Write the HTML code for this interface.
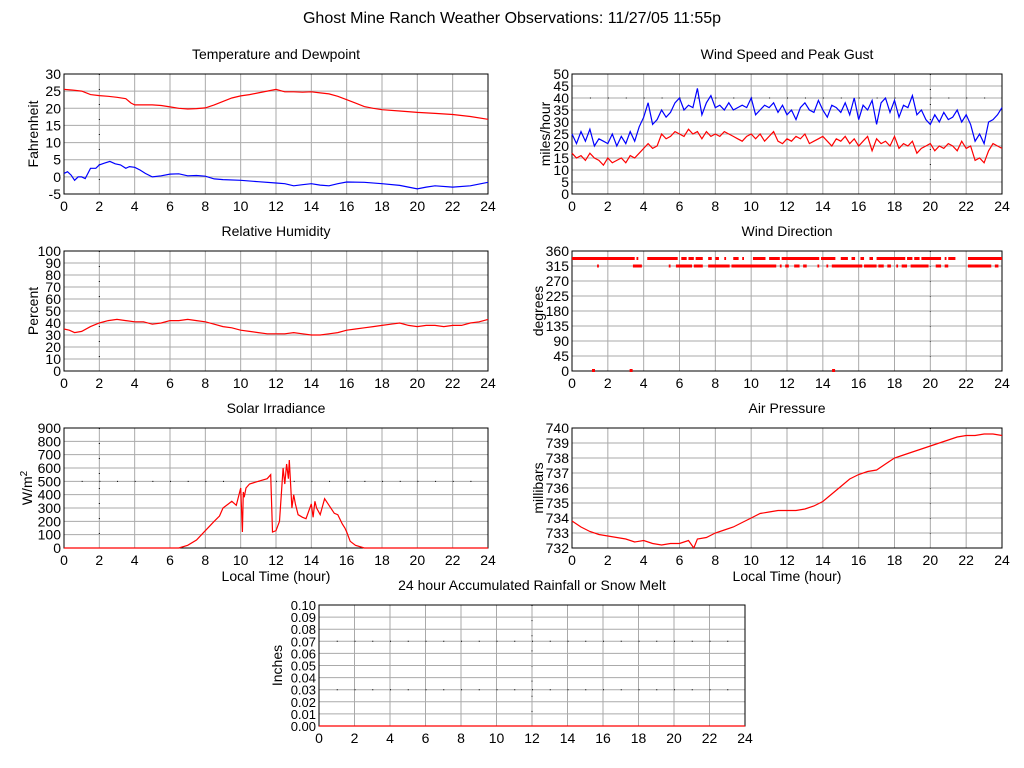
<!DOCTYPE html>
<html><head><meta charset="utf-8">
<style>
html,body{margin:0;padding:0;background:#fff;}
svg{display:block;font-family:"Liberation Sans",sans-serif;}
</style></head>
<body>
<svg id="c" width="1024" height="768" xmlns="http://www.w3.org/2000/svg">
<text x="512" y="23" text-anchor="middle" font-size="16">Ghost Mine Ranch Weather Observations: 11/27/05 11:55p</text>
</svg>
<script>
// ---- data ----
const hoursTicks = [0,2,4,6,8,10,12,14,16,18,20,22,24];
const tempHours = [0,0.5,1,1.5,2,2.5,3,3.5,3.8,4,4.5,5,5.5,6,6.5,7,7.5,8,8.5,9,9.5,10,10.5,11,11.5,12,12.5,13,13.5,14,14.5,15,15.5,16,16.5,17,17.5,18,19,20,21,22,23,24];
const tempVals = [25.5,25.3,25,24,23.7,23.5,23.2,22.8,21.5,21,21,21,20.8,20.4,20,19.8,19.9,20.1,21,22,23,23.6,24,24.5,25,25.5,24.8,24.8,24.7,24.8,24.5,24.2,23.5,22.5,21.5,20.5,20,19.6,19.2,18.8,18.5,18.2,17.6,16.8];
const dewHours = [0,0.2,0.4,0.6,0.8,1,1.2,1.5,1.8,2,2.3,2.6,2.9,3.2,3.5,3.7,4,4.3,4.6,5,5.5,6,6.5,7,7.5,8,8.5,9,10,11,12,12.5,13,13.5,14,14.5,15,15.5,16,17,18,19,19.5,20,20.5,21,22,23,24];
const dewVals = [1,1.5,0.5,-1,0,0,-0.5,2.5,2.5,3.5,4,4.5,3.8,3.5,2.5,3,2.8,2,1,0,0.3,0.8,0.9,0.3,0.4,0.2,-0.6,-0.8,-1,-1.4,-1.8,-2,-2.6,-2.3,-2,-2.4,-2.6,-2,-1.5,-1.6,-2,-2.5,-3,-3.5,-3,-2.6,-3,-2.6,-1.6];

const windHours = [];
for (let i=0;i<=96;i++) windHours.push(i/4);
const gustVals = [25,21,26,22,27,20,23,22,21,25,20,24,21,26,22,28,32,38,29,31,35,32,34,38,40,35,37,36,44,33,38,41,36,37,35,38,35,36,37,36,40,33,35,37,36,38,34,37,33,35,31,36,38,35,34,39,35,32,37,36,34,38,33,40,31,37,35,39,29,38,40,34,39,32,37,36,41,33,35,31,29,33,30,34,31,32,35,30,33,29,22,25,21,30,31,33,36];
const speedVals = [17,15,16,14,17,15,14,12,15,13,14,15,13,16,15,17,19,21,19,20,25,23,24,26,25,24,27,25,26,23,26,24,25,24,26,25,24,23,22,24,25,23,25,22,24,26,22,21,23,22,24,23,25,21,22,23,24,22,20,23,22,24,21,23,20,22,24,18,23,21,22,20,24,19,21,20,22,17,19,20,21,18,20,19,21,20,18,22,19,20,14,15,13,18,21,20,19];

const dirTopRuns = [[0,3.5],[3.6,3.7],[4.2,5.9],[6.1,6.4],[6.5,6.8],[6.9,7.3],[7.6,7.8],[8.0,8.2],[8.5,8.6],[9.0,9.3],[9.5,9.6],[10.1,10.8],[11,11.6],[11.7,13.8],[13.9,14.7],[15,15.4],[15.6,15.8],[16.1,16.3],[16.6,16.8],[17,18.6],[18.7,19],[19.1,19.4],[19.5,20.6],[20.8,20.9],[21.0,21.4],[22.1,24]];
const dirLowRuns = [[1.4,1.5],[3.4,3.9],[5.4,5.5],[5.8,6.7],[6.8,7.3],[7.6,8.8],[8.9,11.4],[11.6,11.7],[11.9,12.1],[12.4,12.7],[12.9,13.1],[13.7,13.8],[14.2,14.3],[14.5,16.2],[16.3,17.0],[17.1,17.4],[17.6,17.8],[18.1,18.2],[18.4,18.7],[18.9,19.9],[20.3,20.6],[20.8,21.0],[22.1,23.4],[23.6,23.8]];
const dirTopVal = 337.5, dirLowVal = 315;
const dirZeroHours = [1.2,3.3,14.6];

const rhHours = [0,0.3,0.6,1,1.5,2,2.5,3,3.5,4,4.5,5,5.5,6,6.5,7,7.5,8,8.5,9,9.5,10,10.5,11,11.5,12,12.5,13,13.5,14,14.5,15,15.5,16,16.5,17,17.5,18,18.5,19,19.5,20,20.5,21,21.5,22,22.5,23,23.5,24];
const rhVals = [35,34,32,33,37,40,42,43,42,41,41,39,40,42,42,43,42,41,39,37,36,34,33,32,31,31,31,32,31,30,30,31,32,34,35,36,37,38,39,40,38,37,38,38,37,38,38,40,41,43];

const solarHours = [0,6.5,7,7.5,8,8.5,8.8,9,9.3,9.5,9.75,10,10.1,10.15,10.2,10.3,10.5,11,11.5,11.7,11.8,12,12.2,12.3,12.4,12.5,12.6,12.7,12.75,12.9,13,13.1,13.25,13.5,13.7,14,14.1,14.2,14.3,14.5,14.75,15,15.3,15.5,15.75,15.9,16,16.2,16.5,17,24];
const solarVals = [0,0,20,60,130,200,240,300,330,350,320,450,120,420,380,450,480,500,520,550,120,130,200,400,600,480,630,520,660,300,400,330,250,230,220,330,230,350,300,250,370,320,260,250,180,150,120,50,20,0,0];

const presHours = [0,0.5,1,1.5,2,2.5,3,3.5,4,4.5,5,5.5,6,6.5,6.8,7,7.5,8,8.5,9,9.5,10,10.5,11,11.5,12,12.5,13,13.5,14,14.5,15,15.5,16,16.5,17,17.5,18,18.5,19,19.5,20,20.5,21,21.5,22,22.5,23,23.5,24];
const presVals = [733.8,733.4,733.1,732.9,732.8,732.7,732.6,732.4,732.5,732.3,732.2,732.3,732.3,732.5,732.0,732.6,732.7,733.0,733.2,733.4,733.7,734.0,734.3,734.4,734.5,734.5,734.5,734.6,734.8,735.1,735.6,736.1,736.6,736.9,737.1,737.2,737.6,738.0,738.2,738.4,738.6,738.8,739.0,739.2,739.4,739.5,739.5,739.6,739.6,739.5];

const rainHours = [0,24];
const rainVals = [0,0];

// ---- drawing ----
const svg = document.getElementById('c');
const NS = 'http://www.w3.org/2000/svg';
function mk(tag, attrs, parent){ const e=document.createElementNS(NS,tag); for(const k in attrs) e.setAttribute(k,attrs[k]); (parent||svg).appendChild(e); return e; }

function panel(o){
  const g = mk('g',{});
  
  
  const X = h => o.x0 + (h/24)*(o.x1-o.x0);
  const Y = v => o.y1 - (v-o.ymin)/(o.ymax-o.ymin)*(o.y1-o.y0);
  const hstep = (o.x1-o.x0)/24;
  hoursTicks.forEach(h=>{
    const l = mk('line',{x1:X(h),x2:X(h),y1:o.y0,y2:o.y1,stroke:'#aaa','stroke-width':1},g);
    
    
    if(o.vdot===h){
      const d = mk('line',{x1:X(h),x2:X(h),y1:o.y0,y2:o.y1,stroke:'#000','stroke-width':1,'stroke-dasharray':'1,'+((o.y1-o.y0)/8-1).toFixed(2),'stroke-dashoffset':0},g);
      
      
    }
    const t = mk('text',{x:X(h),y:o.y1+17,'text-anchor':'middle','font-size':14},g);
    t.textContent = h;
    
    
  });
  o.yticks.forEach((v,i)=>{
    const l = mk('line',{x1:o.x0,x2:o.x1,y1:Y(v),y2:Y(v),stroke:'#aaa','stroke-width':1},g);
    
    
    if(o.hdots && o.hdots.includes(v)){
      const d = mk('line',{x1:o.x0+hstep,x2:o.x1,y1:Y(v),y2:Y(v),stroke:'#000','stroke-width':1,'stroke-dasharray':'1,'+(hstep-1).toFixed(2)},g);
      
      
    }
    const t = mk('text',{x:o.x0-3,y:Y(v)+5,'text-anchor':'end','font-size':o.yfs||14},g);
    t.textContent = o.ylabels ? o.ylabels[i] : v;
    
    
  });
  const fr = mk('rect',{x:o.x0,y:o.y0,width:o.x1-o.x0,height:o.y1-o.y0,fill:'none',stroke:'#000','stroke-width':1},g);
  
  
  const tt = mk('text',{x:(o.x0+o.x1)/2,y:o.y0-15,'text-anchor':'middle','font-size':14},g);
  tt.textContent = o.title;
  
  
  const yt = mk('text',{x:0,y:0,'text-anchor':'middle','font-size':14,transform:`translate(${o.ytx},${(o.y0+o.y1)/2}) rotate(-90)`},g);
  yt.innerHTML = o.ytitle;
  
  
  if(o.xtitle){
    const xt = mk('text',{x:(o.x0+o.x1)/2,y:o.y1+33,'text-anchor':'middle','font-size':14},g);
    xt.textContent = o.xtitle;
    
    
  }
  (o.series||[]).forEach(s=>{
    const pts = s.h.map((h,i)=>X(h).toFixed(1)+','+Y(s.v[i]).toFixed(1)).join(' ');
    const p = mk('polyline',{points:pts,fill:'none',stroke:s.c,'stroke-width':1.2},g);
    
    
  });
  return {g,X,Y};
}

const L = {x0:64,x1:488}, R = {x0:572,x1:1002};
panel({name:'temperature-panel',...L,y0:74,y1:194,ymin:-5,ymax:30,yticks:[-5,0,5,10,15,20,25,30],vdot:2,
  title:'Temperature and Dewpoint',ytitle:'Fahrenheit',ytx:38,
  series:[{h:tempHours,v:tempVals,c:'#f00',name:'temperature-line'},{h:dewHours,v:dewVals,c:'#00f',name:'dewpoint-line'}]});
panel({name:'wind-speed-panel',...R,y0:74,y1:194,ymin:0,ymax:50,yticks:[0,5,10,15,20,25,30,35,40,45,50],vdot:20,hdots:[40],
  title:'Wind Speed and Peak Gust',ytitle:'miles/hour',ytx:550,
  series:[{h:windHours,v:gustVals,c:'#00f',name:'peak-gust-line'},{h:windHours,v:speedVals,c:'#f00',name:'wind-speed-line'}]});
panel({name:'humidity-panel',...L,y0:251,y1:371,ymin:0,ymax:100,yticks:[0,10,20,30,40,50,60,70,80,90,100],vdot:2,
  title:'Relative Humidity',ytitle:'Percent',ytx:38,
  series:[{h:rhHours,v:rhVals,c:'#f00',name:'humidity-line'}]});
const dir = panel({name:'wind-direction-panel',...R,y0:251,y1:371,ymin:0,ymax:360,yticks:[0,45,90,135,180,225,270,315,360],vdot:20,
  title:'Wind Direction',ytitle:'degrees',ytx:543});
dirTopRuns.forEach(r=>{
  const l = mk('line',{x1:dir.X(r[0]),x2:dir.X(r[1]),y1:dir.Y(dirTopVal),y2:dir.Y(dirTopVal),stroke:'#f00','stroke-width':3},dir.g);
  
  
});
dirLowRuns.forEach(r=>{
  const l = mk('line',{x1:dir.X(r[0]),x2:dir.X(r[1]),y1:dir.Y(dirLowVal),y2:dir.Y(dirLowVal),stroke:'#f00','stroke-width':3},dir.g);
  
  
});
dirZeroHours.forEach(h=>{
  const r = mk('rect',{x:dir.X(h)-1.5,y:dir.Y(0)-2,width:3,height:3,fill:'#f00'},dir.g);
  
  
});
panel({name:'solar-panel',...L,y0:428,y1:548,ymin:0,ymax:900,yticks:[0,100,200,300,400,500,600,700,800,900],vdot:2,hdots:[500],
  title:'Solar Irradiance',ytitle:'W/m<tspan dy="-5" font-size="10">2</tspan>',ytx:32,xtitle:'Local Time (hour)',
  series:[{h:solarHours,v:solarVals,c:'#f00',name:'solar-line'}]});
panel({name:'pressure-panel',...R,y0:428,y1:548,ymin:732,ymax:740,yticks:[732,733,734,735,736,737,738,739,740],vdot:20,
  title:'Air Pressure',ytitle:'millibars',ytx:543,xtitle:'Local Time (hour)',
  series:[{h:presHours,v:presVals,c:'#f00',name:'pressure-line'}]});
const rt=[0,0.01,0.02,0.03,0.04,0.05,0.06,0.07,0.08,0.09,0.1];
panel({name:'rainfall-panel',x0:319,x1:745,y0:605,y1:726,ymin:0,ymax:0.1,yticks:rt,ylabels:rt.map(v=>v.toFixed(2)),yfs:13,vdot:12,hdots:[0.03,0.07],
  title:'24 hour Accumulated Rainfall or Snow Melt',ytitle:'Inches',ytx:282,
  series:[{h:rainHours,v:rainVals,c:'#f00',name:'rainfall-line'}]});
</script>
</body></html>
